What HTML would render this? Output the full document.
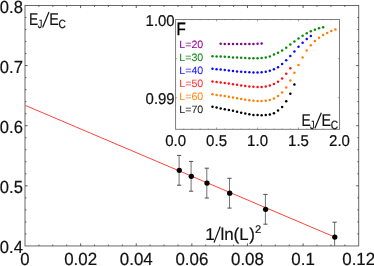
<!DOCTYPE html>
<html><head><meta charset="utf-8"><title>plot</title>
<style>
html,body{margin:0;padding:0;background:#fff;}
body{width:374px;height:266px;overflow:hidden;}
svg{display:block;will-change:transform;opacity:0.999;}
text{font-family:"Liberation Sans", sans-serif;text-rendering:geometricPrecision;}
</style></head><body>
<svg width="374" height="266" viewBox="0 0 374 266">
<rect x="0" y="0" width="374" height="266" fill="#fff"/>
<rect x="25.0" y="5.47" width="333.72" height="240.48" fill="none" stroke="#5c5c5c" stroke-width="0.92"/>
<line x1="38.91" y1="245.95" x2="38.91" y2="244.55" stroke="#333" stroke-width="0.8" />
<line x1="38.91" y1="5.47" x2="38.91" y2="6.87" stroke="#333" stroke-width="0.8" />
<line x1="52.81" y1="245.95" x2="52.81" y2="244.55" stroke="#333" stroke-width="0.8" />
<line x1="52.81" y1="5.47" x2="52.81" y2="6.87" stroke="#333" stroke-width="0.8" />
<line x1="66.72" y1="245.95" x2="66.72" y2="244.55" stroke="#333" stroke-width="0.8" />
<line x1="66.72" y1="5.47" x2="66.72" y2="6.87" stroke="#333" stroke-width="0.8" />
<line x1="80.62" y1="245.95" x2="80.62" y2="243.35" stroke="#333" stroke-width="0.8" />
<line x1="80.62" y1="5.47" x2="80.62" y2="8.07" stroke="#333" stroke-width="0.8" />
<line x1="94.53" y1="245.95" x2="94.53" y2="244.55" stroke="#333" stroke-width="0.8" />
<line x1="94.53" y1="5.47" x2="94.53" y2="6.87" stroke="#333" stroke-width="0.8" />
<line x1="108.43" y1="245.95" x2="108.43" y2="244.55" stroke="#333" stroke-width="0.8" />
<line x1="108.43" y1="5.47" x2="108.43" y2="6.87" stroke="#333" stroke-width="0.8" />
<line x1="122.34" y1="245.95" x2="122.34" y2="244.55" stroke="#333" stroke-width="0.8" />
<line x1="122.34" y1="5.47" x2="122.34" y2="6.87" stroke="#333" stroke-width="0.8" />
<line x1="136.24" y1="245.95" x2="136.24" y2="243.35" stroke="#333" stroke-width="0.8" />
<line x1="136.24" y1="5.47" x2="136.24" y2="8.07" stroke="#333" stroke-width="0.8" />
<line x1="150.15" y1="245.95" x2="150.15" y2="244.55" stroke="#333" stroke-width="0.8" />
<line x1="150.15" y1="5.47" x2="150.15" y2="6.87" stroke="#333" stroke-width="0.8" />
<line x1="164.05" y1="245.95" x2="164.05" y2="244.55" stroke="#333" stroke-width="0.8" />
<line x1="164.05" y1="5.47" x2="164.05" y2="6.87" stroke="#333" stroke-width="0.8" />
<line x1="177.96" y1="245.95" x2="177.96" y2="244.55" stroke="#333" stroke-width="0.8" />
<line x1="177.96" y1="5.47" x2="177.96" y2="6.87" stroke="#333" stroke-width="0.8" />
<line x1="191.86" y1="245.95" x2="191.86" y2="243.35" stroke="#333" stroke-width="0.8" />
<line x1="191.86" y1="5.47" x2="191.86" y2="8.07" stroke="#333" stroke-width="0.8" />
<line x1="205.77" y1="245.95" x2="205.77" y2="244.55" stroke="#333" stroke-width="0.8" />
<line x1="205.77" y1="5.47" x2="205.77" y2="6.87" stroke="#333" stroke-width="0.8" />
<line x1="219.67" y1="245.95" x2="219.67" y2="244.55" stroke="#333" stroke-width="0.8" />
<line x1="219.67" y1="5.47" x2="219.67" y2="6.87" stroke="#333" stroke-width="0.8" />
<line x1="233.58" y1="245.95" x2="233.58" y2="244.55" stroke="#333" stroke-width="0.8" />
<line x1="233.58" y1="5.47" x2="233.58" y2="6.87" stroke="#333" stroke-width="0.8" />
<line x1="247.48" y1="245.95" x2="247.48" y2="243.35" stroke="#333" stroke-width="0.8" />
<line x1="247.48" y1="5.47" x2="247.48" y2="8.07" stroke="#333" stroke-width="0.8" />
<line x1="261.38" y1="245.95" x2="261.38" y2="244.55" stroke="#333" stroke-width="0.8" />
<line x1="261.38" y1="5.47" x2="261.38" y2="6.87" stroke="#333" stroke-width="0.8" />
<line x1="275.29" y1="245.95" x2="275.29" y2="244.55" stroke="#333" stroke-width="0.8" />
<line x1="275.29" y1="5.47" x2="275.29" y2="6.87" stroke="#333" stroke-width="0.8" />
<line x1="289.20" y1="245.95" x2="289.20" y2="244.55" stroke="#333" stroke-width="0.8" />
<line x1="289.20" y1="5.47" x2="289.20" y2="6.87" stroke="#333" stroke-width="0.8" />
<line x1="303.10" y1="245.95" x2="303.10" y2="243.35" stroke="#333" stroke-width="0.8" />
<line x1="303.10" y1="5.47" x2="303.10" y2="8.07" stroke="#333" stroke-width="0.8" />
<line x1="317.01" y1="245.95" x2="317.01" y2="244.55" stroke="#333" stroke-width="0.8" />
<line x1="317.01" y1="5.47" x2="317.01" y2="6.87" stroke="#333" stroke-width="0.8" />
<line x1="330.91" y1="245.95" x2="330.91" y2="244.55" stroke="#333" stroke-width="0.8" />
<line x1="330.91" y1="5.47" x2="330.91" y2="6.87" stroke="#333" stroke-width="0.8" />
<line x1="344.82" y1="245.95" x2="344.82" y2="244.55" stroke="#333" stroke-width="0.8" />
<line x1="344.82" y1="5.47" x2="344.82" y2="6.87" stroke="#333" stroke-width="0.8" />
<line x1="25.00" y1="233.93" x2="26.40" y2="233.93" stroke="#333" stroke-width="0.8" />
<line x1="358.72" y1="233.93" x2="357.32" y2="233.93" stroke="#333" stroke-width="0.8" />
<line x1="25.00" y1="221.90" x2="26.40" y2="221.90" stroke="#333" stroke-width="0.8" />
<line x1="358.72" y1="221.90" x2="357.32" y2="221.90" stroke="#333" stroke-width="0.8" />
<line x1="25.00" y1="209.88" x2="26.40" y2="209.88" stroke="#333" stroke-width="0.8" />
<line x1="358.72" y1="209.88" x2="357.32" y2="209.88" stroke="#333" stroke-width="0.8" />
<line x1="25.00" y1="197.85" x2="26.40" y2="197.85" stroke="#333" stroke-width="0.8" />
<line x1="358.72" y1="197.85" x2="357.32" y2="197.85" stroke="#333" stroke-width="0.8" />
<line x1="25.00" y1="185.83" x2="27.60" y2="185.83" stroke="#333" stroke-width="0.8" />
<line x1="358.72" y1="185.83" x2="356.12" y2="185.83" stroke="#333" stroke-width="0.8" />
<line x1="25.00" y1="173.81" x2="26.40" y2="173.81" stroke="#333" stroke-width="0.8" />
<line x1="358.72" y1="173.81" x2="357.32" y2="173.81" stroke="#333" stroke-width="0.8" />
<line x1="25.00" y1="161.78" x2="26.40" y2="161.78" stroke="#333" stroke-width="0.8" />
<line x1="358.72" y1="161.78" x2="357.32" y2="161.78" stroke="#333" stroke-width="0.8" />
<line x1="25.00" y1="149.76" x2="26.40" y2="149.76" stroke="#333" stroke-width="0.8" />
<line x1="358.72" y1="149.76" x2="357.32" y2="149.76" stroke="#333" stroke-width="0.8" />
<line x1="25.00" y1="137.73" x2="26.40" y2="137.73" stroke="#333" stroke-width="0.8" />
<line x1="358.72" y1="137.73" x2="357.32" y2="137.73" stroke="#333" stroke-width="0.8" />
<line x1="25.00" y1="125.71" x2="27.60" y2="125.71" stroke="#333" stroke-width="0.8" />
<line x1="358.72" y1="125.71" x2="356.12" y2="125.71" stroke="#333" stroke-width="0.8" />
<line x1="25.00" y1="113.69" x2="26.40" y2="113.69" stroke="#333" stroke-width="0.8" />
<line x1="358.72" y1="113.69" x2="357.32" y2="113.69" stroke="#333" stroke-width="0.8" />
<line x1="25.00" y1="101.66" x2="26.40" y2="101.66" stroke="#333" stroke-width="0.8" />
<line x1="358.72" y1="101.66" x2="357.32" y2="101.66" stroke="#333" stroke-width="0.8" />
<line x1="25.00" y1="89.64" x2="26.40" y2="89.64" stroke="#333" stroke-width="0.8" />
<line x1="358.72" y1="89.64" x2="357.32" y2="89.64" stroke="#333" stroke-width="0.8" />
<line x1="25.00" y1="77.61" x2="26.40" y2="77.61" stroke="#333" stroke-width="0.8" />
<line x1="358.72" y1="77.61" x2="357.32" y2="77.61" stroke="#333" stroke-width="0.8" />
<line x1="25.00" y1="65.59" x2="27.60" y2="65.59" stroke="#333" stroke-width="0.8" />
<line x1="358.72" y1="65.59" x2="356.12" y2="65.59" stroke="#333" stroke-width="0.8" />
<line x1="25.00" y1="53.57" x2="26.40" y2="53.57" stroke="#333" stroke-width="0.8" />
<line x1="358.72" y1="53.57" x2="357.32" y2="53.57" stroke="#333" stroke-width="0.8" />
<line x1="25.00" y1="41.54" x2="26.40" y2="41.54" stroke="#333" stroke-width="0.8" />
<line x1="358.72" y1="41.54" x2="357.32" y2="41.54" stroke="#333" stroke-width="0.8" />
<line x1="25.00" y1="29.52" x2="26.40" y2="29.52" stroke="#333" stroke-width="0.8" />
<line x1="358.72" y1="29.52" x2="357.32" y2="29.52" stroke="#333" stroke-width="0.8" />
<line x1="25.00" y1="17.49" x2="26.40" y2="17.49" stroke="#333" stroke-width="0.8" />
<line x1="358.72" y1="17.49" x2="357.32" y2="17.49" stroke="#333" stroke-width="0.8" />
<text x="22.90" y="12.60" font-size="17.6" fill="#111" stroke="#111" stroke-width="0.2" text-anchor="end" textLength="23.05" lengthAdjust="spacingAndGlyphs" >0.8</text>
<text x="22.90" y="72.63" font-size="17.6" fill="#111" stroke="#111" stroke-width="0.2" text-anchor="end" textLength="23.05" lengthAdjust="spacingAndGlyphs" >0.7</text>
<text x="22.90" y="132.66" font-size="17.6" fill="#111" stroke="#111" stroke-width="0.2" text-anchor="end" textLength="23.05" lengthAdjust="spacingAndGlyphs" >0.6</text>
<text x="22.90" y="192.69" font-size="17.6" fill="#111" stroke="#111" stroke-width="0.2" text-anchor="end" textLength="23.05" lengthAdjust="spacingAndGlyphs" >0.5</text>
<text x="22.90" y="252.72" font-size="17.6" fill="#111" stroke="#111" stroke-width="0.2" text-anchor="end" textLength="23.05" lengthAdjust="spacingAndGlyphs" >0.4</text>
<text x="25.00" y="265.30" font-size="17.6" fill="#111" stroke="#111" stroke-width="0.2" text-anchor="middle" textLength="9.30" lengthAdjust="spacingAndGlyphs" >0</text>
<text x="80.62" y="265.30" font-size="17.6" fill="#111" stroke="#111" stroke-width="0.2" text-anchor="middle" textLength="32.90" lengthAdjust="spacingAndGlyphs" >0.02</text>
<text x="136.24" y="265.30" font-size="17.6" fill="#111" stroke="#111" stroke-width="0.2" text-anchor="middle" textLength="32.90" lengthAdjust="spacingAndGlyphs" >0.04</text>
<text x="191.86" y="265.30" font-size="17.6" fill="#111" stroke="#111" stroke-width="0.2" text-anchor="middle" textLength="32.90" lengthAdjust="spacingAndGlyphs" >0.06</text>
<text x="247.48" y="265.30" font-size="17.6" fill="#111" stroke="#111" stroke-width="0.2" text-anchor="middle" textLength="32.90" lengthAdjust="spacingAndGlyphs" >0.08</text>
<text x="303.10" y="265.30" font-size="17.6" fill="#111" stroke="#111" stroke-width="0.2" text-anchor="middle" textLength="23.50" lengthAdjust="spacingAndGlyphs" >0.1</text>
<text x="358.72" y="265.30" font-size="17.6" fill="#111" stroke="#111" stroke-width="0.2" text-anchor="middle" textLength="32.90" lengthAdjust="spacingAndGlyphs" >0.12</text>
<line x1="25.30" y1="105.40" x2="334.80" y2="237.10" stroke="#ff3a34" stroke-width="0.95" />
<clipPath id="mc"><rect x="25.0" y="5.47" width="333.72" height="240.48"/></clipPath>
<g clip-path="url(#mc)">
<line x1="179.10" y1="155.40" x2="179.10" y2="185.20" stroke="#777" stroke-width="1.05" />
<line x1="177.00" y1="155.40" x2="181.20" y2="155.40" stroke="#444" stroke-width="0.95" />
<line x1="177.00" y1="185.20" x2="181.20" y2="185.20" stroke="#444" stroke-width="0.95" />
<line x1="191.10" y1="161.40" x2="191.10" y2="191.20" stroke="#777" stroke-width="1.05" />
<line x1="189.00" y1="161.40" x2="193.20" y2="161.40" stroke="#444" stroke-width="0.95" />
<line x1="189.00" y1="191.20" x2="193.20" y2="191.20" stroke="#444" stroke-width="0.95" />
<line x1="206.80" y1="168.20" x2="206.80" y2="198.00" stroke="#777" stroke-width="1.05" />
<line x1="204.70" y1="168.20" x2="208.90" y2="168.20" stroke="#444" stroke-width="0.95" />
<line x1="204.70" y1="198.00" x2="208.90" y2="198.00" stroke="#444" stroke-width="0.95" />
<line x1="229.50" y1="178.30" x2="229.50" y2="208.10" stroke="#777" stroke-width="1.05" />
<line x1="227.40" y1="178.30" x2="231.60" y2="178.30" stroke="#444" stroke-width="0.95" />
<line x1="227.40" y1="208.10" x2="231.60" y2="208.10" stroke="#444" stroke-width="0.95" />
<line x1="265.40" y1="194.40" x2="265.40" y2="224.20" stroke="#777" stroke-width="1.05" />
<line x1="263.30" y1="194.40" x2="267.50" y2="194.40" stroke="#444" stroke-width="0.95" />
<line x1="263.30" y1="224.20" x2="267.50" y2="224.20" stroke="#444" stroke-width="0.95" />
<line x1="334.60" y1="222.20" x2="334.60" y2="252.00" stroke="#777" stroke-width="1.05" />
<line x1="332.50" y1="222.20" x2="336.70" y2="222.20" stroke="#444" stroke-width="0.95" />
<line x1="332.50" y1="252.00" x2="336.70" y2="252.00" stroke="#444" stroke-width="0.95" />
</g>
<circle cx="179.30" cy="170.30" r="2.65" fill="#000"/>
<circle cx="191.30" cy="176.30" r="2.65" fill="#000"/>
<circle cx="207.00" cy="183.10" r="2.65" fill="#000"/>
<circle cx="229.70" cy="193.20" r="2.65" fill="#000"/>
<circle cx="265.60" cy="209.30" r="2.65" fill="#000"/>
<circle cx="334.80" cy="237.10" r="2.65" fill="#000"/>
<text x="29.10" y="24.90" font-size="17.1" fill="#111" stroke="#111" stroke-width="0.2" text-anchor="start" textLength="9.20" lengthAdjust="spacingAndGlyphs" >E</text>
<text x="37.80" y="27.80" font-size="12.0" fill="#111" stroke="#111" stroke-width="0.2" text-anchor="start" textLength="4.60" lengthAdjust="spacingAndGlyphs" >J</text>
<line x1="42.60" y1="27.60" x2="49.00" y2="12.00" stroke="#111" stroke-width="1.2" />
<text x="49.30" y="24.90" font-size="17.1" fill="#111" stroke="#111" stroke-width="0.2" text-anchor="start" textLength="9.60" lengthAdjust="spacingAndGlyphs" >E</text>
<text x="58.50" y="27.90" font-size="12.0" fill="#111" stroke="#111" stroke-width="0.2" text-anchor="start" textLength="7.40" lengthAdjust="spacingAndGlyphs" >C</text>
<text x="205.20" y="239.80" font-size="17.1" fill="#111" stroke="#111" stroke-width="0.2" text-anchor="start" >1</text>
<line x1="214.00" y1="242.60" x2="220.30" y2="226.50" stroke="#111" stroke-width="1.2" />
<text x="220.40" y="239.80" font-size="17.1" fill="#111" stroke="#111" stroke-width="0.2" text-anchor="start" textLength="13.20" lengthAdjust="spacingAndGlyphs" >ln</text>
<text x="233.40" y="239.80" font-size="17.1" fill="#111" stroke="#111" stroke-width="0.2" text-anchor="start" >(</text>
<text x="239.20" y="239.80" font-size="17.1" fill="#111" stroke="#111" stroke-width="0.2" text-anchor="start" textLength="9.30" lengthAdjust="spacingAndGlyphs" >L</text>
<text x="249.30" y="239.80" font-size="17.1" fill="#111" stroke="#111" stroke-width="0.2" text-anchor="start" >)</text>
<text x="255.00" y="232.70" font-size="11.2" fill="#111" stroke="#111" stroke-width="0.2" text-anchor="start" >2</text>
<rect x="175.6" y="19.45" width="163.90" height="109.85" fill="#fff" stroke="#707070" stroke-width="0.9"/>
<line x1="183.79" y1="129.30" x2="183.79" y2="128.40" stroke="#777" stroke-width="0.55" />
<line x1="183.79" y1="19.45" x2="183.79" y2="20.35" stroke="#777" stroke-width="0.55" />
<line x1="191.99" y1="129.30" x2="191.99" y2="128.40" stroke="#777" stroke-width="0.55" />
<line x1="191.99" y1="19.45" x2="191.99" y2="20.35" stroke="#777" stroke-width="0.55" />
<line x1="200.19" y1="129.30" x2="200.19" y2="128.40" stroke="#777" stroke-width="0.55" />
<line x1="200.19" y1="19.45" x2="200.19" y2="20.35" stroke="#777" stroke-width="0.55" />
<line x1="208.38" y1="129.30" x2="208.38" y2="128.40" stroke="#777" stroke-width="0.55" />
<line x1="208.38" y1="19.45" x2="208.38" y2="20.35" stroke="#777" stroke-width="0.55" />
<line x1="216.57" y1="129.30" x2="216.57" y2="127.50" stroke="#555" stroke-width="0.55" />
<line x1="216.57" y1="19.45" x2="216.57" y2="21.25" stroke="#555" stroke-width="0.55" />
<line x1="224.77" y1="129.30" x2="224.77" y2="128.40" stroke="#777" stroke-width="0.55" />
<line x1="224.77" y1="19.45" x2="224.77" y2="20.35" stroke="#777" stroke-width="0.55" />
<line x1="232.97" y1="129.30" x2="232.97" y2="128.40" stroke="#777" stroke-width="0.55" />
<line x1="232.97" y1="19.45" x2="232.97" y2="20.35" stroke="#777" stroke-width="0.55" />
<line x1="241.16" y1="129.30" x2="241.16" y2="128.40" stroke="#777" stroke-width="0.55" />
<line x1="241.16" y1="19.45" x2="241.16" y2="20.35" stroke="#777" stroke-width="0.55" />
<line x1="249.36" y1="129.30" x2="249.36" y2="128.40" stroke="#777" stroke-width="0.55" />
<line x1="249.36" y1="19.45" x2="249.36" y2="20.35" stroke="#777" stroke-width="0.55" />
<line x1="257.55" y1="129.30" x2="257.55" y2="127.50" stroke="#555" stroke-width="0.55" />
<line x1="257.55" y1="19.45" x2="257.55" y2="21.25" stroke="#555" stroke-width="0.55" />
<line x1="265.75" y1="129.30" x2="265.75" y2="128.40" stroke="#777" stroke-width="0.55" />
<line x1="265.75" y1="19.45" x2="265.75" y2="20.35" stroke="#777" stroke-width="0.55" />
<line x1="273.94" y1="129.30" x2="273.94" y2="128.40" stroke="#777" stroke-width="0.55" />
<line x1="273.94" y1="19.45" x2="273.94" y2="20.35" stroke="#777" stroke-width="0.55" />
<line x1="282.13" y1="129.30" x2="282.13" y2="128.40" stroke="#777" stroke-width="0.55" />
<line x1="282.13" y1="19.45" x2="282.13" y2="20.35" stroke="#777" stroke-width="0.55" />
<line x1="290.33" y1="129.30" x2="290.33" y2="128.40" stroke="#777" stroke-width="0.55" />
<line x1="290.33" y1="19.45" x2="290.33" y2="20.35" stroke="#777" stroke-width="0.55" />
<line x1="298.52" y1="129.30" x2="298.52" y2="127.50" stroke="#555" stroke-width="0.55" />
<line x1="298.52" y1="19.45" x2="298.52" y2="21.25" stroke="#555" stroke-width="0.55" />
<line x1="306.72" y1="129.30" x2="306.72" y2="128.40" stroke="#777" stroke-width="0.55" />
<line x1="306.72" y1="19.45" x2="306.72" y2="20.35" stroke="#777" stroke-width="0.55" />
<line x1="314.92" y1="129.30" x2="314.92" y2="128.40" stroke="#777" stroke-width="0.55" />
<line x1="314.92" y1="19.45" x2="314.92" y2="20.35" stroke="#777" stroke-width="0.55" />
<line x1="323.11" y1="129.30" x2="323.11" y2="128.40" stroke="#777" stroke-width="0.55" />
<line x1="323.11" y1="19.45" x2="323.11" y2="20.35" stroke="#777" stroke-width="0.55" />
<line x1="331.31" y1="129.30" x2="331.31" y2="128.40" stroke="#777" stroke-width="0.55" />
<line x1="331.31" y1="19.45" x2="331.31" y2="20.35" stroke="#777" stroke-width="0.55" />
<line x1="175.60" y1="58.60" x2="177.20" y2="58.60" stroke="#666" stroke-width="0.55" />
<line x1="339.50" y1="58.60" x2="337.90" y2="58.60" stroke="#666" stroke-width="0.55" />
<line x1="175.60" y1="97.70" x2="177.20" y2="97.70" stroke="#666" stroke-width="0.55" />
<line x1="339.50" y1="97.70" x2="337.90" y2="97.70" stroke="#666" stroke-width="0.55" />
<text x="175.60" y="146.25" font-size="15.7" fill="#111" stroke="#111" stroke-width="0.2" text-anchor="middle" textLength="20.90" lengthAdjust="spacingAndGlyphs" >0.0</text>
<text x="216.57" y="146.25" font-size="15.7" fill="#111" stroke="#111" stroke-width="0.2" text-anchor="middle" textLength="20.90" lengthAdjust="spacingAndGlyphs" >0.5</text>
<text x="257.55" y="146.25" font-size="15.7" fill="#111" stroke="#111" stroke-width="0.2" text-anchor="middle" textLength="20.90" lengthAdjust="spacingAndGlyphs" >1.0</text>
<text x="298.52" y="146.25" font-size="15.7" fill="#111" stroke="#111" stroke-width="0.2" text-anchor="middle" textLength="20.90" lengthAdjust="spacingAndGlyphs" >1.5</text>
<text x="339.50" y="146.25" font-size="15.7" fill="#111" stroke="#111" stroke-width="0.2" text-anchor="middle" textLength="20.90" lengthAdjust="spacingAndGlyphs" >2.0</text>
<text x="174.70" y="25.60" font-size="15.7" fill="#111" stroke="#111" stroke-width="0.2" text-anchor="end" textLength="29.10" lengthAdjust="spacingAndGlyphs" >1.00</text>
<text x="174.70" y="104.30" font-size="15.7" fill="#111" stroke="#111" stroke-width="0.2" text-anchor="end" textLength="29.10" lengthAdjust="spacingAndGlyphs" >0.99</text>
<text x="176.40" y="34.70" font-size="17.8" fill="#000" stroke="#000" stroke-width="0.35" text-anchor="start" textLength="9.30" lengthAdjust="spacingAndGlyphs" >F</text>
<text x="301.40" y="125.60" font-size="17.1" fill="#111" stroke="#111" stroke-width="0.2" text-anchor="start" textLength="9.20" lengthAdjust="spacingAndGlyphs" >E</text>
<text x="310.10" y="128.50" font-size="12.0" fill="#111" stroke="#111" stroke-width="0.2" text-anchor="start" textLength="4.60" lengthAdjust="spacingAndGlyphs" >J</text>
<line x1="314.90" y1="128.30" x2="321.30" y2="112.70" stroke="#111" stroke-width="1.2" />
<text x="321.60" y="125.60" font-size="17.1" fill="#111" stroke="#111" stroke-width="0.2" text-anchor="start" textLength="9.60" lengthAdjust="spacingAndGlyphs" >E</text>
<text x="330.80" y="128.60" font-size="12.0" fill="#111" stroke="#111" stroke-width="0.2" text-anchor="start" textLength="7.40" lengthAdjust="spacingAndGlyphs" >C</text>
<text x="179.30" y="47.85" font-size="10.6" fill="#990099" stroke="#990099" stroke-width="0.05" text-anchor="start" textLength="24.00" lengthAdjust="spacingAndGlyphs" >L=20</text>
<text x="179.30" y="60.65" font-size="10.6" fill="#1a8a1a" stroke="#1a8a1a" stroke-width="0.05" text-anchor="start" textLength="24.00" lengthAdjust="spacingAndGlyphs" >L=30</text>
<text x="179.30" y="73.80" font-size="10.6" fill="#1a1aff" stroke="#1a1aff" stroke-width="0.05" text-anchor="start" textLength="24.00" lengthAdjust="spacingAndGlyphs" >L=40</text>
<text x="179.30" y="87.00" font-size="10.6" fill="#ff3535" stroke="#ff3535" stroke-width="0.05" text-anchor="start" textLength="24.00" lengthAdjust="spacingAndGlyphs" >L=50</text>
<text x="179.30" y="99.95" font-size="10.6" fill="#ff8a1a" stroke="#ff8a1a" stroke-width="0.05" text-anchor="start" textLength="24.00" lengthAdjust="spacingAndGlyphs" >L=60</text>
<text x="179.30" y="113.40" font-size="10.6" fill="#222" stroke="#222" stroke-width="0.05" text-anchor="start" textLength="24.00" lengthAdjust="spacingAndGlyphs" >L=70</text>
<circle cx="220.67" cy="43.80" r="1.25" fill="#8b008b"/>
<circle cx="224.77" cy="43.90" r="1.25" fill="#8b008b"/>
<circle cx="228.87" cy="44.00" r="1.25" fill="#8b008b"/>
<circle cx="232.97" cy="44.05" r="1.25" fill="#8b008b"/>
<circle cx="237.06" cy="44.10" r="1.25" fill="#8b008b"/>
<circle cx="241.16" cy="44.10" r="1.25" fill="#8b008b"/>
<circle cx="245.26" cy="44.10" r="1.25" fill="#8b008b"/>
<circle cx="249.35" cy="44.00" r="1.25" fill="#8b008b"/>
<circle cx="253.45" cy="43.90" r="1.25" fill="#8b008b"/>
<circle cx="257.55" cy="43.70" r="1.25" fill="#8b008b"/>
<circle cx="261.65" cy="43.40" r="1.25" fill="#8b008b"/>
<circle cx="212.48" cy="56.20" r="1.25" fill="#0a8a0a"/>
<circle cx="216.57" cy="56.40" r="1.25" fill="#0a8a0a"/>
<circle cx="220.67" cy="56.60" r="1.25" fill="#0a8a0a"/>
<circle cx="224.77" cy="56.80" r="1.25" fill="#0a8a0a"/>
<circle cx="228.87" cy="57.10" r="1.25" fill="#0a8a0a"/>
<circle cx="232.97" cy="57.40" r="1.25" fill="#0a8a0a"/>
<circle cx="237.06" cy="57.60" r="1.25" fill="#0a8a0a"/>
<circle cx="241.16" cy="57.80" r="1.25" fill="#0a8a0a"/>
<circle cx="245.26" cy="58.00" r="1.25" fill="#0a8a0a"/>
<circle cx="249.35" cy="58.20" r="1.25" fill="#0a8a0a"/>
<circle cx="253.45" cy="58.20" r="1.25" fill="#0a8a0a"/>
<circle cx="257.55" cy="58.20" r="1.25" fill="#0a8a0a"/>
<circle cx="261.65" cy="58.00" r="1.25" fill="#0a8a0a"/>
<circle cx="265.75" cy="57.40" r="1.25" fill="#0a8a0a"/>
<circle cx="269.84" cy="56.40" r="1.25" fill="#0a8a0a"/>
<circle cx="273.94" cy="54.60" r="1.25" fill="#0a8a0a"/>
<circle cx="278.04" cy="52.80" r="1.25" fill="#0a8a0a"/>
<circle cx="282.13" cy="50.40" r="1.25" fill="#0a8a0a"/>
<circle cx="286.23" cy="47.70" r="1.25" fill="#0a8a0a"/>
<circle cx="290.33" cy="44.60" r="1.25" fill="#0a8a0a"/>
<circle cx="294.43" cy="41.40" r="1.25" fill="#0a8a0a"/>
<circle cx="298.52" cy="38.40" r="1.25" fill="#0a8a0a"/>
<circle cx="302.62" cy="35.70" r="1.25" fill="#0a8a0a"/>
<circle cx="306.72" cy="33.30" r="1.25" fill="#0a8a0a"/>
<circle cx="310.82" cy="31.30" r="1.25" fill="#0a8a0a"/>
<circle cx="314.91" cy="29.70" r="1.25" fill="#0a8a0a"/>
<circle cx="319.01" cy="28.30" r="1.25" fill="#0a8a0a"/>
<circle cx="323.11" cy="27.20" r="1.25" fill="#0a8a0a"/>
<circle cx="212.48" cy="68.80" r="1.25" fill="#0a0aff"/>
<circle cx="216.57" cy="69.30" r="1.25" fill="#0a0aff"/>
<circle cx="220.67" cy="69.60" r="1.25" fill="#0a0aff"/>
<circle cx="224.77" cy="69.90" r="1.25" fill="#0a0aff"/>
<circle cx="228.87" cy="70.40" r="1.25" fill="#0a0aff"/>
<circle cx="232.97" cy="70.90" r="1.25" fill="#0a0aff"/>
<circle cx="237.06" cy="71.40" r="1.25" fill="#0a0aff"/>
<circle cx="241.16" cy="71.70" r="1.25" fill="#0a0aff"/>
<circle cx="245.26" cy="72.00" r="1.25" fill="#0a0aff"/>
<circle cx="249.35" cy="72.30" r="1.25" fill="#0a0aff"/>
<circle cx="253.45" cy="72.40" r="1.25" fill="#0a0aff"/>
<circle cx="257.55" cy="72.50" r="1.25" fill="#0a0aff"/>
<circle cx="261.65" cy="72.30" r="1.25" fill="#0a0aff"/>
<circle cx="265.75" cy="71.70" r="1.25" fill="#0a0aff"/>
<circle cx="269.84" cy="70.70" r="1.25" fill="#0a0aff"/>
<circle cx="273.94" cy="69.30" r="1.25" fill="#0a0aff"/>
<circle cx="278.04" cy="67.20" r="1.25" fill="#0a0aff"/>
<circle cx="282.13" cy="64.10" r="1.25" fill="#0a0aff"/>
<circle cx="286.23" cy="60.20" r="1.25" fill="#0a0aff"/>
<circle cx="290.33" cy="56.10" r="1.25" fill="#0a0aff"/>
<circle cx="294.43" cy="51.40" r="1.25" fill="#0a0aff"/>
<circle cx="298.52" cy="46.70" r="1.25" fill="#0a0aff"/>
<circle cx="302.62" cy="42.70" r="1.25" fill="#0a0aff"/>
<circle cx="306.72" cy="38.90" r="1.25" fill="#0a0aff"/>
<circle cx="310.82" cy="35.90" r="1.25" fill="#0a0aff"/>
<circle cx="212.48" cy="81.60" r="1.25" fill="#ff1010"/>
<circle cx="216.57" cy="82.10" r="1.25" fill="#ff1010"/>
<circle cx="220.67" cy="82.60" r="1.25" fill="#ff1010"/>
<circle cx="224.77" cy="83.00" r="1.25" fill="#ff1010"/>
<circle cx="228.87" cy="83.50" r="1.25" fill="#ff1010"/>
<circle cx="232.97" cy="84.20" r="1.25" fill="#ff1010"/>
<circle cx="237.06" cy="84.80" r="1.25" fill="#ff1010"/>
<circle cx="241.16" cy="85.50" r="1.25" fill="#ff1010"/>
<circle cx="245.26" cy="85.90" r="1.25" fill="#ff1010"/>
<circle cx="249.35" cy="86.40" r="1.25" fill="#ff1010"/>
<circle cx="253.45" cy="86.80" r="1.25" fill="#ff1010"/>
<circle cx="257.55" cy="86.90" r="1.25" fill="#ff1010"/>
<circle cx="261.65" cy="86.90" r="1.25" fill="#ff1010"/>
<circle cx="265.75" cy="86.40" r="1.25" fill="#ff1010"/>
<circle cx="269.84" cy="85.40" r="1.25" fill="#ff1010"/>
<circle cx="273.94" cy="83.90" r="1.25" fill="#ff1010"/>
<circle cx="278.04" cy="81.70" r="1.25" fill="#ff1010"/>
<circle cx="282.13" cy="78.50" r="1.25" fill="#ff1010"/>
<circle cx="286.23" cy="73.80" r="1.25" fill="#ff1010"/>
<circle cx="290.33" cy="68.30" r="1.25" fill="#ff1010"/>
<circle cx="212.48" cy="94.20" r="1.25" fill="#ff8000"/>
<circle cx="216.57" cy="94.90" r="1.25" fill="#ff8000"/>
<circle cx="220.67" cy="95.50" r="1.25" fill="#ff8000"/>
<circle cx="224.77" cy="96.10" r="1.25" fill="#ff8000"/>
<circle cx="228.87" cy="96.80" r="1.25" fill="#ff8000"/>
<circle cx="232.97" cy="97.40" r="1.25" fill="#ff8000"/>
<circle cx="237.06" cy="98.20" r="1.25" fill="#ff8000"/>
<circle cx="241.16" cy="99.00" r="1.25" fill="#ff8000"/>
<circle cx="245.26" cy="99.70" r="1.25" fill="#ff8000"/>
<circle cx="249.35" cy="100.20" r="1.25" fill="#ff8000"/>
<circle cx="253.45" cy="100.70" r="1.25" fill="#ff8000"/>
<circle cx="257.55" cy="101.00" r="1.25" fill="#ff8000"/>
<circle cx="261.65" cy="101.00" r="1.25" fill="#ff8000"/>
<circle cx="265.75" cy="100.70" r="1.25" fill="#ff8000"/>
<circle cx="269.84" cy="100.10" r="1.25" fill="#ff8000"/>
<circle cx="273.94" cy="98.60" r="1.25" fill="#ff8000"/>
<circle cx="278.04" cy="96.00" r="1.25" fill="#ff8000"/>
<circle cx="282.13" cy="92.50" r="1.25" fill="#ff8000"/>
<circle cx="286.23" cy="87.40" r="1.25" fill="#ff8000"/>
<circle cx="290.33" cy="80.60" r="1.25" fill="#ff8000"/>
<circle cx="294.43" cy="72.80" r="1.25" fill="#ff8000"/>
<circle cx="298.52" cy="64.90" r="1.25" fill="#ff8000"/>
<circle cx="302.62" cy="57.50" r="1.25" fill="#ff8000"/>
<circle cx="306.72" cy="50.60" r="1.25" fill="#ff8000"/>
<circle cx="310.82" cy="45.30" r="1.25" fill="#ff8000"/>
<circle cx="314.91" cy="41.00" r="1.25" fill="#ff8000"/>
<circle cx="319.01" cy="37.70" r="1.25" fill="#ff8000"/>
<circle cx="323.11" cy="35.00" r="1.25" fill="#ff8000"/>
<circle cx="327.21" cy="33.00" r="1.25" fill="#ff8000"/>
<circle cx="331.31" cy="31.10" r="1.25" fill="#ff8000"/>
<circle cx="335.40" cy="29.60" r="1.25" fill="#ff8000"/>
<circle cx="212.48" cy="106.80" r="1.25" fill="#000"/>
<circle cx="216.57" cy="107.60" r="1.25" fill="#000"/>
<circle cx="220.67" cy="108.40" r="1.25" fill="#000"/>
<circle cx="224.77" cy="109.20" r="1.25" fill="#000"/>
<circle cx="228.87" cy="110.00" r="1.25" fill="#000"/>
<circle cx="232.97" cy="110.80" r="1.25" fill="#000"/>
<circle cx="237.06" cy="111.80" r="1.25" fill="#000"/>
<circle cx="241.16" cy="112.80" r="1.25" fill="#000"/>
<circle cx="245.26" cy="113.60" r="1.25" fill="#000"/>
<circle cx="249.35" cy="114.20" r="1.25" fill="#000"/>
<circle cx="253.45" cy="114.90" r="1.25" fill="#000"/>
<circle cx="257.55" cy="115.10" r="1.25" fill="#000"/>
<circle cx="261.65" cy="115.30" r="1.25" fill="#000"/>
<circle cx="265.75" cy="115.10" r="1.25" fill="#000"/>
<circle cx="269.84" cy="114.50" r="1.25" fill="#000"/>
<circle cx="273.94" cy="113.20" r="1.25" fill="#000"/>
<circle cx="278.04" cy="110.60" r="1.25" fill="#000"/>
<circle cx="282.13" cy="106.90" r="1.25" fill="#000"/>
<circle cx="286.23" cy="101.20" r="1.25" fill="#000"/>
<circle cx="290.33" cy="93.80" r="1.25" fill="#000"/>
<circle cx="294.43" cy="84.50" r="1.25" fill="#000"/>
</svg>
</body></html>
